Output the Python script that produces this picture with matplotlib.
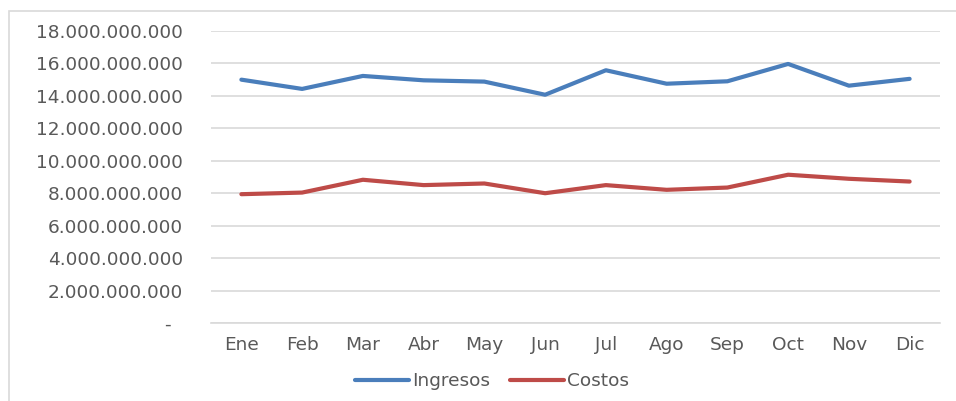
import matplotlib.pyplot as plt
from matplotlib.patches import Rectangle
from matplotlib.ticker import FuncFormatter

meses = ["Ene", "Feb", "Mar", "Abr", "May", "Jun", "Jul", "Ago", "Sep", "Oct", "Nov", "Dic"]
ingresos = [15.00e9, 14.43e9, 15.23e9, 14.96e9, 14.88e9, 14.07e9,
            15.58e9, 14.75e9, 14.90e9, 15.97e9, 14.63e9, 15.05e9]
costos = [7.94e9, 8.04e9, 8.83e9, 8.50e9, 8.60e9, 8.00e9,
          8.50e9, 8.21e9, 8.35e9, 9.14e9, 8.89e9, 8.72e9]

plt.rcParams['font.family'] = ['DejaVu Sans']
texto = '#595959'
tam = 13.3

fig = plt.figure(figsize=(9.56, 4.01), dpi=100)
ax = fig.add_axes([211 / 956, 1 - 323 / 401, (940 - 211) / 956, (323 - 31) / 401])

# borde del area del grafico
fig.patches.append(Rectangle((9 / 956, -0.1), 1.2, 1 - 11 / 401 + 0.1,
                             transform=fig.transFigure, fill=False,
                             edgecolor='#D9D9D9', linewidth=1.2))

x = range(len(meses))
ax.plot(x, ingresos, color='#4A7EBB', linewidth=3.0, label='Ingresos', solid_capstyle='round')
ax.plot(x, costos, color='#BE4B48', linewidth=3.0, label='Costos', solid_capstyle='round')

ax.set_xlim(-0.5, len(meses) - 0.5)
ax.set_ylim(0, 18e9)
ax.set_yticks([i * 2e9 for i in range(10)])
ax.yaxis.set_major_formatter(FuncFormatter(
    lambda v, p: '-  ' if v == 0 else f"{v:,.0f}".replace(',', '.')))
ax.set_xticks(list(x))
ax.set_xticklabels(meses)

ax.grid(axis='y', color='#D9D9D9', linewidth=1.2)
ax.set_axisbelow(True)
for s in ['top', 'right', 'left']:
    ax.spines[s].set_visible(False)
ax.spines['bottom'].set_color('#D9D9D9')
ax.spines['bottom'].set_linewidth(1.2)
ax.tick_params(axis='y', length=0, pad=20, labelsize=tam, labelcolor=texto)
ax.tick_params(axis='x', length=0, pad=9, labelsize=tam, labelcolor=texto)

ax.legend(loc='center', bbox_to_anchor=(492 / 956, 1 - 381 / 401),
          bbox_transform=fig.transFigure, ncol=2, frameon=False,
          fontsize=tam, labelcolor=texto, handlelength=2.9,
          handletextpad=0.15, columnspacing=1.1)

fig.savefig('out.png', dpi=100)
